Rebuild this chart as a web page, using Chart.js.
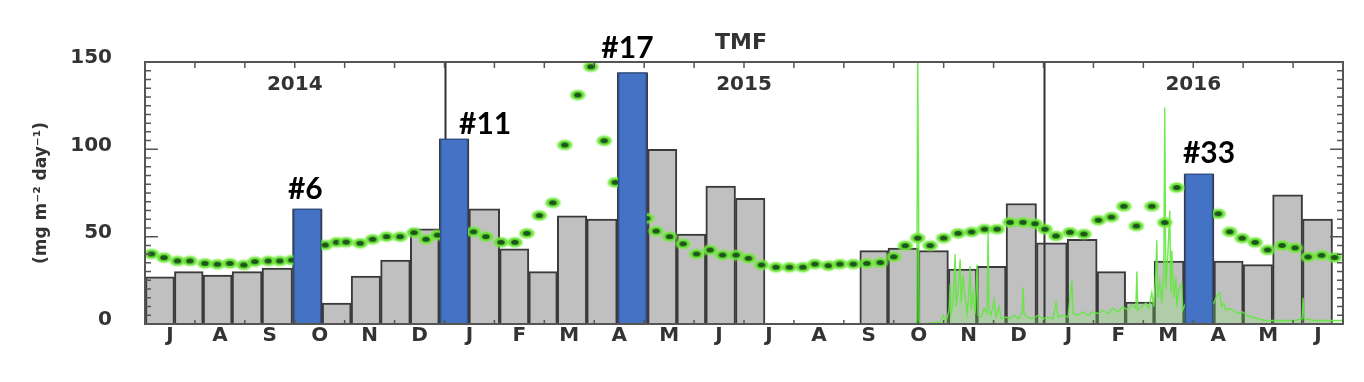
<!DOCTYPE html>
<html>
<head>
<meta charset="utf-8">
<title>TMF</title>
<script src="https://cdn.jsdelivr.net/npm/chart.js@4.4.1/dist/chart.umd.min.js"></script>
<style>
  html, body { margin: 0; padding: 0; background: #fff; }
  #wrap { width: 1364px; height: 382px; }
</style>
</head>
<body>
<div id="wrap"><canvas id="tmf-chart" width="1364" height="382"></canvas></div>
<script>
// Eixo x em meses desde 1 jul 2014 (0..24)
const monthLetters = ['J','A','S','O','N','D','J','F','M','A','M','J','J','A','S','O','N','D','J','F','M','A','M','J'];
const yearLabels = ['2014', '2015', '2016'];
const yearLabelMonth = [3, 12, 21];
const yearBreakMonth = [6, 18];

// Coletas da armadilha: meio do periodo de coleta e fluxo (mg m-2 dia-1)
// os dois null marcam o intervalo sem amostras (jul-ago 2015)
const sampleMonth = [0.30, 0.88, 1.45, 2.04, 2.65, 3.26, 3.84, 4.42, 5.02, 5.61,
  6.18, 6.80, 7.41, 7.97, 8.55, 9.15, 9.77, 10.37, 10.94, 11.53, 12.13,
  12.71, 14.05,
  14.59, 15.18, 15.81, 16.38, 16.95, 17.55, 18.17, 18.78, 19.37, 19.92, 20.51,
  21.12, 21.71, 22.29, 22.89, 23.49];
const sampleFlux = [27, 30, 28, 30, 32, 66, 12, 27.5, 36.6, 54.5,
  106, 66, 43, 30, 62, 60, 144, 100, 51.5, 79, 72,
  null, null,
  42, 43.5, 42, 31.5, 33, 69, 46.5, 48.5, 30, 12.5, 36,
  86, 36, 34, 74, 60];
const highlighted = [6, 11, 17, 33];

// Serie modelada (pontos verdes)
const modelMonth = [0.13, 0.38, 0.65, 0.90, 1.20, 1.45, 1.70, 1.98, 2.20, 2.47, 2.70, 2.94,
  3.61, 3.84, 4.03, 4.31, 4.56, 4.84, 5.11, 5.39, 5.63, 5.86,
  6.58, 6.83, 7.13, 7.41, 7.65, 7.90, 8.17, 8.41, 8.67, 8.93, 9.20, 9.42,
  10.05, 10.24, 10.51, 10.78, 11.05, 11.32, 11.57, 11.84, 12.09, 12.35,
  12.64, 12.91, 13.18, 13.42, 13.69, 13.92, 14.19, 14.46, 14.73, 15.00,
  15.23, 15.48, 15.73, 16.00, 16.29, 16.56, 16.82, 17.07, 17.33, 17.59,
  17.83, 18.03, 18.25, 18.53, 18.81, 19.10, 19.36, 19.61, 19.86, 20.17,
  20.43, 20.67,
  21.50, 21.73, 21.98, 22.24, 22.49, 22.78, 23.04, 23.30, 23.57, 23.83];
const modelFlux = [40.1, 38.0, 36.1, 36.1, 34.7, 34.2, 34.7, 33.8, 35.7, 36.1, 36.1, 36.6,
  45.2, 46.8, 46.9, 46.2, 48.5, 50.0, 50.0, 52.3, 48.5, 50.9,
  52.8, 50.0, 46.8, 46.8, 51.9, 62.1, 69.4, 102.5, 131.1, 147.3, 104.9, 81.1,
  60.5, 53.2, 50.0, 45.9, 40.1, 42.4, 39.5, 39.5, 37.6, 33.8,
  32.5, 32.5, 32.5, 34.3, 33.4, 34.3, 34.3, 34.7, 35.2, 38.5,
  44.8, 49.2, 44.9, 49.2, 51.9, 52.7, 54.3, 54.3, 58.2, 58.2,
  57.4, 54.3, 50.4, 52.5, 51.5, 59.4, 61.2, 67.4, 56.1, 67.4,
  58.1, 78.1,
  63.1, 52.8, 49.1, 46.7, 42.4, 45.0, 43.6, 38.4, 39.3, 38.1];

// Registro continuo (linha verde clara, a partir de set 2015)
const precipMonth = [14.22, 15.44, 15.46, 15.48, 15.51, 15.54, 15.93, 15.99, 16.05, 16.11,
  16.13, 16.15, 16.19, 16.23, 16.25, 16.29, 16.33, 16.35, 16.39, 16.43,
  16.47, 16.51, 16.53, 16.55, 16.59, 16.63, 16.67, 16.69, 16.75, 16.81,
  16.87, 16.89, 16.91, 16.95, 17.01, 17.05, 17.11, 17.15, 17.25, 17.33,
  17.41, 17.49, 17.57, 17.59, 17.61, 17.67, 17.77, 17.89, 17.99, 18.09,
  18.19, 18.25, 18.29, 18.39, 18.49, 18.57, 18.59, 18.69, 18.79, 18.89,
  18.99, 19.09, 19.19, 19.29, 19.39, 19.49, 19.59, 19.69, 19.77, 19.85,
  19.87, 19.89, 19.97, 20.05, 20.11, 20.17, 20.21, 20.25, 20.27, 20.29,
  20.33, 20.37, 20.41, 20.43, 20.45, 20.49, 20.53, 20.55, 20.57, 20.61,
  20.65, 20.67, 20.71, 20.77, 20.79, 20.85, 21.03, 21.23, 21.41, 21.47,
  21.53, 21.57, 21.61, 21.65, 21.71, 21.80, 21.88, 21.98, 22.08, 22.18,
  22.30, 22.44, 22.64, 22.84, 23.04, 23.18, 23.20, 23.22, 23.44, 23.74,
  23.98];
const precipValue = [0, 0, 2, 160, 2, 0, 1, 5, 2, 8,
  23, 6, 12, 40, 10, 20, 37, 12, 28, 15,
  6, 20, 33, 8, 18, 6, 34, 5, 4, 9,
  6, 53, 8, 5, 14, 4, 10, 3, 4, 3,
  5, 3, 6, 21, 6, 4, 3, 5, 3, 4,
  3, 12, 4, 5, 4, 25, 6, 5, 7, 5,
  7, 6, 8, 6, 9, 7, 10, 8, 11, 9,
  30, 8, 10, 12, 9, 18, 10, 30, 48, 15,
  24, 12, 30, 124, 20, 40, 65, 18, 42, 15,
  27, 10, 20, 23, 8, 12, 12, 14, 12, 16,
  18, 10, 12, 8, 9, 8, 6, 7, 5, 4,
  3, 2, 2, 2, 2, 3, 15, 3, 2, 2,
  2];

// numero da amostra -> indice no array (pula os null)
const sampleIndex = [];
sampleFlux.forEach((v, i) => { if (v !== null) sampleIndex.push(i); });

const greyBars = sampleMonth.map((m, i) => ({ x: m, y: sampleFlux[i] }));
const blueBars = sampleMonth.map((m, i) => {
    const n = sampleIndex.indexOf(i) + 1;
    return { x: m, y: highlighted.includes(n) ? sampleFlux[i] : null };
});
const modelPoints = modelMonth.map((m, i) => ({ x: m, y: modelFlux[i] }));
const precipPoints = precipMonth.map((m, i) => ({ x: m, y: precipValue[i] }));

// marcador: elipse verde escura com halo verde claro
function makeDotImage() {
    const c = document.createElement('canvas');
    c.width = 18; c.height = 13;
    const g = c.getContext('2d');
    g.fillStyle = 'rgba(130, 240, 80, 0.45)';
    g.beginPath(); g.ellipse(9, 6.5, 8.5, 6, 0, 0, Math.PI * 2); g.fill();
    g.fillStyle = 'rgba(104, 226, 52, 0.95)';
    g.beginPath(); g.ellipse(9, 6.5, 6.8, 4.6, 0, 0, Math.PI * 2); g.fill();
    g.fillStyle = '#1c561c';
    g.beginPath(); g.ellipse(9, 6.5, 3.8, 2.5, 0, 0, Math.PI * 2); g.fill();
    return c;
}

const AXIS_FONT = { family: 'DejaVu Sans', size: 20, weight: 'bold' };
const TEXT_COLOR = '#333';

// linhas de virada de ano ficam por cima das barras cinza
const yearLinePlugin = {
    id: 'yearLines',
    afterDatasetDraw(chart, args) {
        if (chart.data.datasets[args.index].label !== 'TMF') return;
        const { ctx, chartArea } = chart;
        const xs = chart.scales.x;
        ctx.save();
        ctx.strokeStyle = '#333';
        ctx.lineWidth = 2;
        yearBreakMonth.forEach(m => {
            const x = Math.round(xs.getPixelForValue(m)) + 0.5;
            ctx.beginPath();
            ctx.moveTo(x, chartArea.top);
            ctx.lineTo(x, chartArea.bottom);
            ctx.stroke();
        });
        ctx.restore();
    }
};

const decorPlugin = {
    id: 'decor',
    afterDraw(chart, args, opts) {
        const { ctx, chartArea: a } = chart;
        const xs = chart.scales.x, ys = chart.scales.y;
        ctx.save();

        // moldura
        ctx.strokeStyle = '#555';
        ctx.lineWidth = 2;
        ctx.strokeRect(a.left, a.top, a.right - a.left, a.bottom - a.top);

        // marcas internas
        ctx.lineWidth = 1.5;
        for (let v = 5; v < 150; v += 5) {
            const y = ys.getPixelForValue(v);
            const len = v % 50 === 0 ? 13 : 6;
            ctx.beginPath();
            ctx.moveTo(a.left, y); ctx.lineTo(a.left + len, y);
            ctx.moveTo(a.right, y); ctx.lineTo(a.right - len, y);
            ctx.stroke();
        }
        for (let m = 1; m < 24; m++) {
            const x = xs.getPixelForValue(m);
            ctx.beginPath();
            ctx.moveTo(x, a.top); ctx.lineTo(x, a.top + 6);
            ctx.moveTo(x, a.bottom); ctx.lineTo(x, a.bottom - 4);
            ctx.stroke();
        }

        // titulo e anos
        ctx.fillStyle = TEXT_COLOR;
        ctx.textAlign = 'center';
        ctx.textBaseline = 'alphabetic';
        ctx.font = 'bold 22px "DejaVu Sans"';
        ctx.fillText('TMF', (a.left + a.right) / 2 - 3, a.top - 13);
        ctx.font = 'bold 20px "DejaVu Sans"';
        yearLabels.forEach((t, i) => {
            ctx.fillText(t, xs.getPixelForValue(yearLabelMonth[i]), a.top + 28);
        });

        // rotulos das amostras em destaque
        const meta = chart.getDatasetMeta(0);
        ctx.fillStyle = '#000';
        ctx.font = 'bold 30px Lato';
        highlighted.forEach((n, k) => {
            const bar = meta.data[sampleIndex[n - 1]];
            const [dx, dy] = opts.labelShift[k];
            ctx.fillText('#' + n, bar.x + dx, bar.y + dy);
        });
        ctx.restore();
    }
};

const ctx = document.getElementById('tmf-chart');
new Chart(ctx, {
    type: 'bar',
    data: {
        datasets: [
            {
                type: 'bar',
                label: 'destaque',
                data: blueBars,
                stack: 'samples',
                backgroundColor: '#4472C4',
                borderColor: '#2F528F',
                borderWidth: 1.5,
                borderSkipped: false,
                barThickness: 'flex',
                categoryPercentage: 1,
                barPercentage: 0.93,
                order: 1
            },
            {
                type: 'line',
                label: 'modelo',
                data: modelPoints,
                showLine: false,
                pointStyle: makeDotImage(),
                pointRadius: 6,
                order: 2
            },
            {
                type: 'line',
                label: 'continuo',
                data: precipPoints,
                borderColor: 'rgba(98, 232, 62, 0.9)',
                borderWidth: 1.4,
                backgroundColor: 'rgba(130, 240, 100, 0.25)',
                fill: 'origin',
                pointRadius: 0,
                tension: 0,
                order: 3
            },
            {
                type: 'bar',
                label: 'TMF',
                data: greyBars,
                stack: 'samples',
                backgroundColor: '#c0c0c0',
                borderColor: '#3a3a3a',
                borderWidth: 2,
                borderSkipped: 'start',
                barThickness: 'flex',
                categoryPercentage: 1,
                barPercentage: 1,
                order: 4
            }
        ]
    },
    options: {
        responsive: false,
        animation: false,
        events: [],
        layout: { padding: { left: 20, top: 62, right: 21, bottom: 0 } },
        scales: {
            x: {
                type: 'linear',
                min: 0,
                max: 24,
                offset: false,
                grid: { display: false, drawTicks: false },
                border: { display: false },
                afterBuildTicks: (axis) => {
                    axis.ticks = monthLetters.map((_, i) => ({ value: i + 0.5 }));
                },
                ticks: {
                    autoSkip: false,
                    maxRotation: 0,
                    padding: 0,
                    font: AXIS_FONT,
                    color: TEXT_COLOR,
                    callback: (v, i) => monthLetters[i]
                },
                afterFit: (s) => { s.height = 58; }
            },
            y: {
                min: 0,
                max: 150,
                stacked: false,
                grid: { display: false, drawTicks: false },
                border: { display: false },
                ticks: {
                    stepSize: 50,
                    padding: 33,
                    labelOffset: -4,
                    font: AXIS_FONT,
                    color: TEXT_COLOR
                },
                title: {
                    display: true,
                    text: '(mg m⁻² day⁻¹)',
                    color: TEXT_COLOR,
                    font: { family: 'DejaVu Sans', size: 17, weight: 'bold' },
                    padding: { top: 11, bottom: 0 }
                },
                afterFit: (s) => { s.width = 125; }
            }
        },
        plugins: {
            legend: { display: false },
            tooltip: { enabled: false },
            decor: { labelShift: [[-2, -10], [31, -5], [-5, -14], [10, -11]] }
        }
    },
    plugins: [yearLinePlugin, decorPlugin]
});
</script>
</body>
</html>
